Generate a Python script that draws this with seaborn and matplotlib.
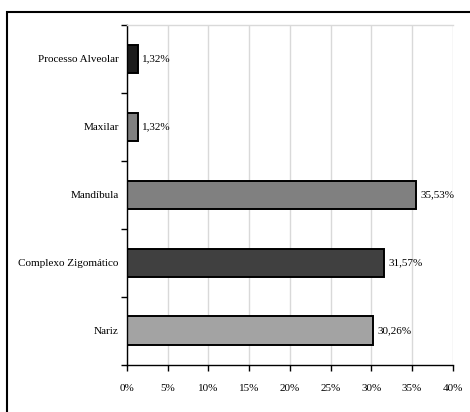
import matplotlib
matplotlib.use("Agg")
import matplotlib.pyplot as plt
from matplotlib.patches import Rectangle
from matplotlib.ticker import FixedLocator
import seaborn as sns
import pandas as pd

# Fracture sites and their share of cases (%)
regions = ["Processo Alveolar", "Maxilar", "Mandíbula", "Complexo Zigomático", "Nariz"]
percentages = [1.32, 1.32, 35.53, 31.57, 30.26]
bar_colors = ["#1c1c1c", "#808080", "#808080", "#404040", "#a3a3a3"]
x_ticks = [0, 5, 10, 15, 20, 25, 30, 35, 40]

df = pd.DataFrame({"regiao": regions, "pct": percentages})

sns.set_theme(style="white")
plt.rcParams["font.family"] = ["Liberation Serif", "DejaVu Serif"]

fig = plt.figure(figsize=(4.70, 4.12), dpi=100)
ax = fig.add_axes([127 / 470, 1 - 364.7 / 412, (452.7 - 127) / 470, (364.7 - 25) / 412])

sns.barplot(data=df, x="pct", y="regiao", hue="regiao", palette=bar_colors,
            order=regions, hue_order=regions, legend=False, width=0.42,
            edgecolor="black", linewidth=1.4, saturation=1, ax=ax)

ax.set_xlim(0, 40)
ax.set_ylim(len(regions) - 0.5, -0.5)
ax.set_xticks(x_ticks)
ax.set_xticklabels([f"{t}%" for t in x_ticks])
ax.set_xlabel("")
ax.set_ylabel("")

# vertical grid behind the bars
ax.set_axisbelow(True)
ax.xaxis.grid(True, color="#d9d9d9", linewidth=1.0)
ax.yaxis.grid(False)

# spines
for side in ["left", "bottom"]:
    ax.spines[side].set_color("black")
    ax.spines[side].set_linewidth(1.0)
ax.spines["top"].set_color("#d9d9d9")
ax.spines["top"].set_linewidth(1.0)
ax.spines["right"].set_visible(False)

# category boundary ticks on the y axis
ax.yaxis.set_minor_locator(FixedLocator([i - 0.5 for i in range(len(regions) + 1)]))
ax.tick_params(axis="y", which="major", length=0, pad=6, labelsize=8, colors="black")
ax.tick_params(axis="y", which="minor", left=True, length=4, width=1.0, color="black")
ax.tick_params(axis="x", which="major", bottom=True, length=4, width=1.0, color="black",
               labelsize=8, pad=10, labelcolor="black")

# value labels
for container in ax.containers:
    labels = [f"{v:.2f}".replace(".", ",") + "%" for v in container.datavalues]
    ax.bar_label(container, labels=labels, padding=3, fontsize=8, color="black")

# outer frame around the chart
fig.patches.append(Rectangle((7 / 470, -0.2), 1.2, 1.2 - 11.5 / 412, transform=fig.transFigure,
                             fill=False, edgecolor="black", linewidth=1.5, zorder=10))

fig.savefig("out.png", dpi=100)
